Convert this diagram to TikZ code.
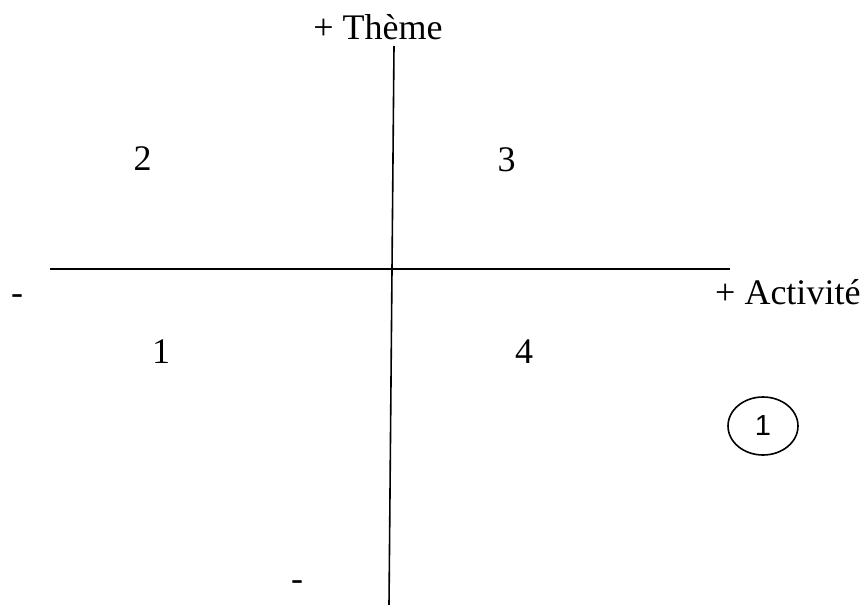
\documentclass[tikz,border=0pt]{standalone}
\usepackage{fontspec}
\setmainfont{Liberation Serif}
\newfontfamily\circfont{Liberation Sans}
\tikzset{
  axis/.style={line width=1.6pt},
  lbl/.style={font=\fontsize{36}{40}\selectfont, inner sep=0pt, anchor=base},
  circled/.style={draw, ellipse, line width=1.6pt, minimum width=70pt, minimum height=58pt,
    inner sep=0pt, font=\fontsize{29}{32}\selectfont\circfont}
}
\usetikzlibrary{shapes.geometric}
\begin{document}
\begin{tikzpicture}[x=1pt,y=-1pt]
    \useasboundingbox (0,0) rectangle (868,605);
    % axes
    \coordinate (vtop) at (394,46);
    \coordinate (vbot) at (389,605);
    \coordinate (hleft) at (50,269);
    \coordinate (hright) at (730,269);
    \draw[axis] (vtop) -- (vbot);
    \draw[axis] (hleft) -- (hright);
    % axis labels
    \node[lbl] (theme) at (378,39) {+ Thème};
    \node[lbl, anchor=base west] (activite) at (715,304) {+ Activité};
    \node[lbl] (minusx) at (17,304) {-};
    \node[lbl] (minusy) at (297,590) {-};
    % quadrants
    \node[lbl] (q2) at (142.5,170) {2};
    \node[lbl] (q3) at (506.5,171) {3};
    \node[lbl] (q1) at (161,363) {1};
    \node[lbl] (q4) at (524,363) {4};
    \node[circled] (num) at (763,426) {1};
\end{tikzpicture}
\end{document}
